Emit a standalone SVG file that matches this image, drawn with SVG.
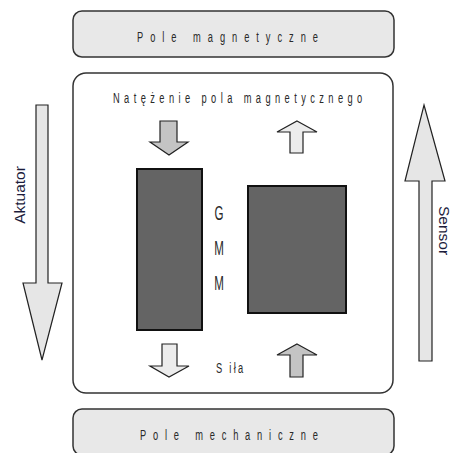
<svg xmlns="http://www.w3.org/2000/svg" width="453" height="453" viewBox="0 0 453 453">
<style>
.box{fill:#e8e8e8;stroke:#333;stroke-width:1.5}
.main{fill:#fff;stroke:#333;stroke-width:1.5}
.blk{fill:#646464;stroke:#111;stroke-width:2}
.arr{stroke:#222;stroke-width:1.2;stroke-linejoin:miter}
.dk{fill:#c4c4c4}
.lt{fill:#ececec}
.big{fill:#e6e6e6;stroke:#222;stroke-width:1.2}
.sp{font-family:"Liberation Sans",Arial,sans-serif;font-size:15px;fill:#2a2a2a}
.gmm{font-family:"Liberation Sans",Arial,sans-serif;font-size:21px;fill:#2a2a2a;text-anchor:middle}
.lbl{font-family:"Liberation Sans",Arial,sans-serif;font-size:15.5px;fill:#1c1c3c}
</style>
<rect width="453" height="453" fill="#fff"/>
<g id="pole-magnetyczne">
<rect class="box" x="73" y="11" width="321" height="46" rx="9"/>
<text class="sp" transform="translate(137,42) scale(0.62,1)" textLength="292" lengthAdjust="spacing">Pole magnetyczne</text>
</g>
<g id="przetwornik">
<rect class="main" x="73" y="73" width="320" height="320" rx="13"/>
<text class="sp" transform="translate(113,103) scale(0.62,1)" textLength="402" lengthAdjust="spacing">Natężenie pola magnetycznego</text>
<rect class="blk" x="137" y="169" width="65" height="161"/>
<rect class="blk" x="248" y="186" width="98" height="127"/>
<text class="gmm" transform="translate(219,220) scale(0.55,1)">G</text>
<text class="gmm" transform="translate(219,255) scale(0.55,1)">M</text>
<text class="gmm" transform="translate(219,290) scale(0.55,1)">M</text>
<text class="sp" transform="translate(216,373) scale(0.62,1)" textLength="44" lengthAdjust="spacing">S iła</text>
</g>
<g id="connectors">
<polygon class="arr dk" points="160,121 177,121 177,142 188,142 169,155 150,142 160,142"/>
<polygon class="arr lt" points="297,121 317,132 303,132 303,153 290,153 290,132 277,132"/>
<polygon class="arr lt" points="162,344 177,344 177,366 189,366 169,377 150,366 162,366"/>
<polygon class="arr dk" points="297,344 317,355 303,355 303,377 290,377 290,355 277,355"/>
<polygon class="big" points="36,105 48,105 48,283 62,283 42,360 23,283 36,283"/>
<polygon class="big" points="424,105 445,181 432,181 432,361 419,361 419,181 405,181"/>
</g>
<g id="aktuator">
<text class="lbl" transform="translate(25,195) rotate(-90)" text-anchor="middle">Aktuator</text>
</g>
<g id="sensor">
<text class="lbl" transform="translate(439,206) rotate(90)">Sensor</text>
</g>
<g id="pole-mechaniczne">
<rect class="box" x="73" y="409" width="321" height="46" rx="9"/>
<text class="sp" transform="translate(140,440) scale(0.62,1)" textLength="287" lengthAdjust="spacing">Pole mechaniczne</text>
</g>
</svg>
